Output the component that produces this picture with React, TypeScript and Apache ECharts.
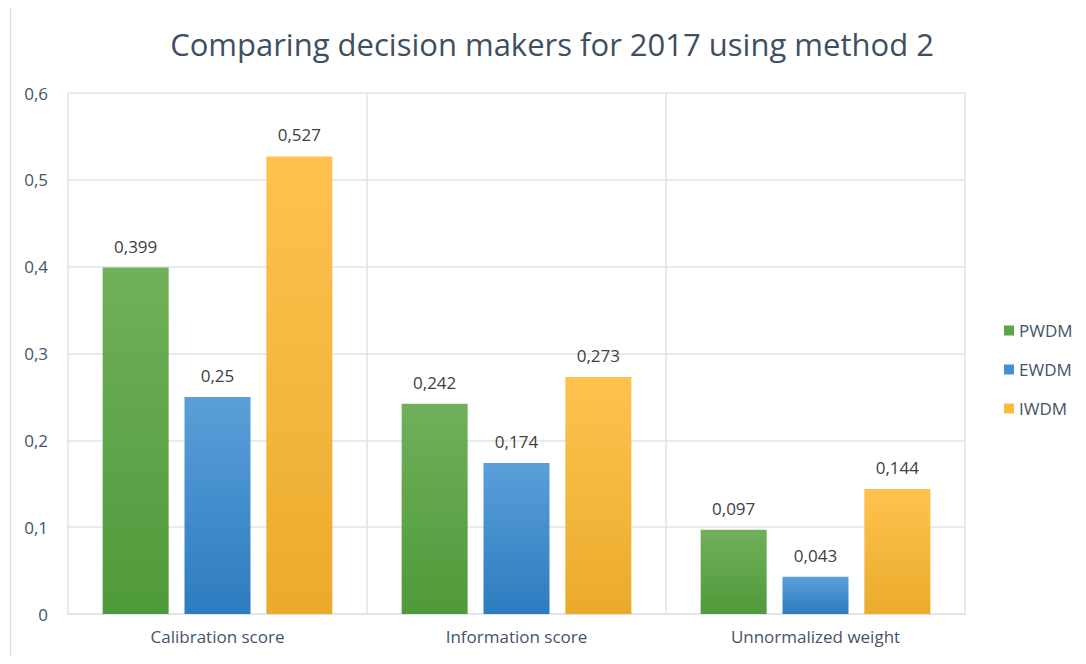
import React, { useEffect, useRef } from "react";
import * as echarts from "echarts";

const categories = ["Calibration score", "Information score", "Unnormalized weight"];
const pwdm = [0.399, 0.242, 0.097];
const ewdm = [0.25, 0.174, 0.043];
const iwdm = [0.527, 0.273, 0.144];
const yTicks = [0, 0.1, 0.2, 0.3, 0.4, 0.5, 0.6];

const FONT = "'Open Sans', sans-serif";
const TEXT = "#44546a";

const grad = (top: string, bottom: string) =>
  new echarts.graphic.LinearGradient(0, 0, 0, 1, [
    { offset: 0, color: top },
    { offset: 1, color: bottom },
  ]);

const fmt = (v: number) => String(v).replace(".", ",");

export default function App() {
  const ref = useRef<HTMLDivElement>(null);
  useEffect(() => {
    if (!ref.current) return;
    const chart = echarts.init(ref.current, null, { renderer: "svg" });
    const label = {
      show: true,
      position: "top" as const,
      distance: 13,
      fontFamily: FONT,
      fontSize: 17,
      color: "#404040",
      formatter: (p: any) => fmt(p.value),
    };
    const mk = (name: string, data: number[], c: [string, string]) => ({
      name,
      type: "bar" as const,
      data,
      barWidth: 66,
      barGap: "24%",
      itemStyle: { color: grad(c[0], c[1]) },
      label,
    });
    chart.setOption({
      animation: false,
      title: {
        text: "Comparing decision makers for 2017 using method 2",
        left: 539,
        textAlign: "center",
        top: 15,
        textStyle: { fontFamily: FONT, fontSize: 31, fontWeight: "normal", color: "#3f4f63" },
      },
      legend: {
        orient: "vertical",
        left: 991,
        top: 309,
        itemGap: 22,
        itemWidth: 10,
        itemHeight: 10,
        icon: "rect",
        textStyle: { fontFamily: FONT, fontSize: 17, color: TEXT },
        data: [
          { name: "PWDM", itemStyle: { color: "#5ea548" } },
          { name: "EWDM", itemStyle: { color: "#4590d2" } },
          { name: "IWDM", itemStyle: { color: "#fbbb3a" } },
        ],
      },
      grid: { left: 60, right: 113, top: 85, bottom: 42 },
      xAxis: {
        type: "category",
        data: categories,
        axisTick: { show: false },
        axisLine: { show: true, lineStyle: { color: "#dfe3ea", width: 1.5 } },
        splitLine: { show: true, lineStyle: { color: "#dfe3ea", width: 1.5 } },
        axisLabel: { fontFamily: FONT, fontSize: 17, color: TEXT, margin: 14 },
      },
      yAxis: {
        type: "value",
        min: 0,
        max: 0.6,
        interval: 0.1,
        axisLine: { show: false },
        axisTick: { show: false },
        splitLine: { lineStyle: { color: "#dfe3ea", width: 1.5 } },
        axisLabel: {
          fontFamily: FONT,
          fontSize: 17,
          color: TEXT,
          margin: 20,
          formatter: (v: number) => {
            const t = yTicks.find((x) => Math.abs(x - v) < 1e-9);
            return t === 0 ? "0" : (t ?? v).toFixed(1).replace(".", ",");
          },
        },
      },
      graphic: [
        {
          type: "line",
          shape: { x1: 2.5, y1: 0, x2: 2.5, y2: 660 },
          style: { stroke: "#d9dde4", lineWidth: 1.5 },
        },
      ],
      series: [
        mk("PWDM", pwdm, ["#70b05a", "#4f9a3a"]),
        mk("EWDM", ewdm, ["#5a9fd9", "#2d7bbf"]),
        mk("IWDM", iwdm, ["#ffc24f", "#eaab2c"]),
      ],
    });
    return () => chart.dispose();
  }, []);
  return <div ref={ref} style={{ width: 1070, height: 648 }} />;
}
